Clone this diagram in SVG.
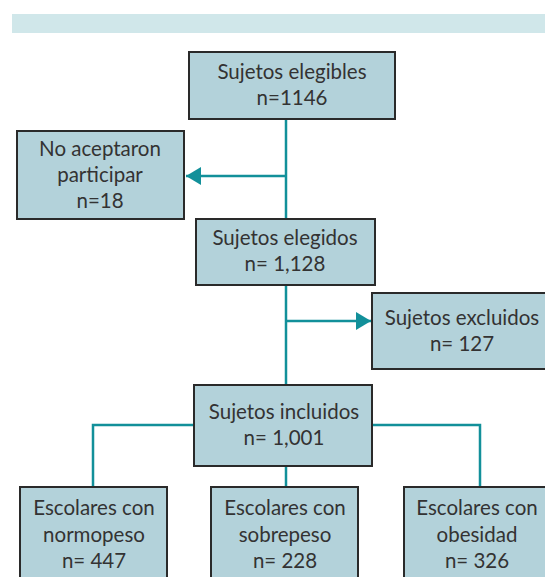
<svg xmlns="http://www.w3.org/2000/svg" width="545" height="577" viewBox="0 0 545 577">
<style>
.box{fill:#b3d2da;stroke:#2a2a2a;stroke-width:2}
.t{font-family:Lato,"Open Sans",sans-serif;font-size:20.5px;fill:#333;text-anchor:middle}
.c{fill:none;stroke:#12909a;stroke-width:2.5}
</style>
<defs>
<marker id="ah" viewBox="0 0 10 12" refX="10" refY="6" markerWidth="6" markerHeight="7.2" markerUnits="strokeWidth" orient="auto">
<path d="M0,0 L10,6 L0,12 z" fill="#12909a"/>
</marker>
</defs>
<rect x="12" y="14" width="533" height="19" fill="#d0e7ea"/>
<g id="connectors">
<path class="c" d="M286,118 V220"/>
<path class="c" d="M286,176 H186" marker-end="url(#ah)"/>
<path class="c" d="M286,285 V385"/>
<path class="c" d="M286,321 H371" marker-end="url(#ah)"/>
<path class="c" d="M194,425 H93 V487"/>
<path class="c" d="M372,425 H480 V487"/>
<path class="c" d="M286,466 V487"/>
</g>
<g id="n1"><rect class="box" x="189" y="52" width="206" height="67"/>
<text class="t" x="292" y="79">Sujetos elegibles</text><text class="t" x="292" y="105">n=1146</text></g>
<g id="n2"><rect class="box" x="17" y="131" width="167" height="88"/>
<text class="t" x="100" y="156">No aceptaron</text><text class="t" x="100" y="182">participar</text><text class="t" x="100" y="208">n=18</text></g>
<g id="n3"><rect class="box" x="196" y="219" width="179" height="66"/>
<text class="t" x="285" y="245">Sujetos elegidos</text><text class="t" x="285" y="271">n= 1,128</text></g>
<g id="n4"><rect class="box" x="372" y="293" width="180" height="76"/>
<text class="t" x="462" y="325">Sujetos excluidos</text><text class="t" x="462" y="351">n= 127</text></g>
<g id="n5"><rect class="box" x="194" y="385" width="178" height="81"/>
<text class="t" x="284" y="419">Sujetos incluidos</text><text class="t" x="284" y="445">n= 1,001</text></g>
<g id="n6"><rect class="box" x="20" y="487" width="147" height="100"/>
<text class="t" x="94" y="515">Escolares con</text><text class="t" x="94" y="542">normopeso</text><text class="t" x="94" y="568">n= 447</text></g>
<g id="n7"><rect class="box" x="211" y="487" width="147" height="100"/>
<text class="t" x="285" y="515">Escolares con</text><text class="t" x="285" y="542">sobrepeso</text><text class="t" x="285" y="568">n= 228</text></g>
<g id="n8"><rect class="box" x="404" y="487" width="150" height="100"/>
<text class="t" x="477" y="515">Escolares con</text><text class="t" x="477" y="542">obesidad</text><text class="t" x="477" y="568">n= 326</text></g>
</svg>
